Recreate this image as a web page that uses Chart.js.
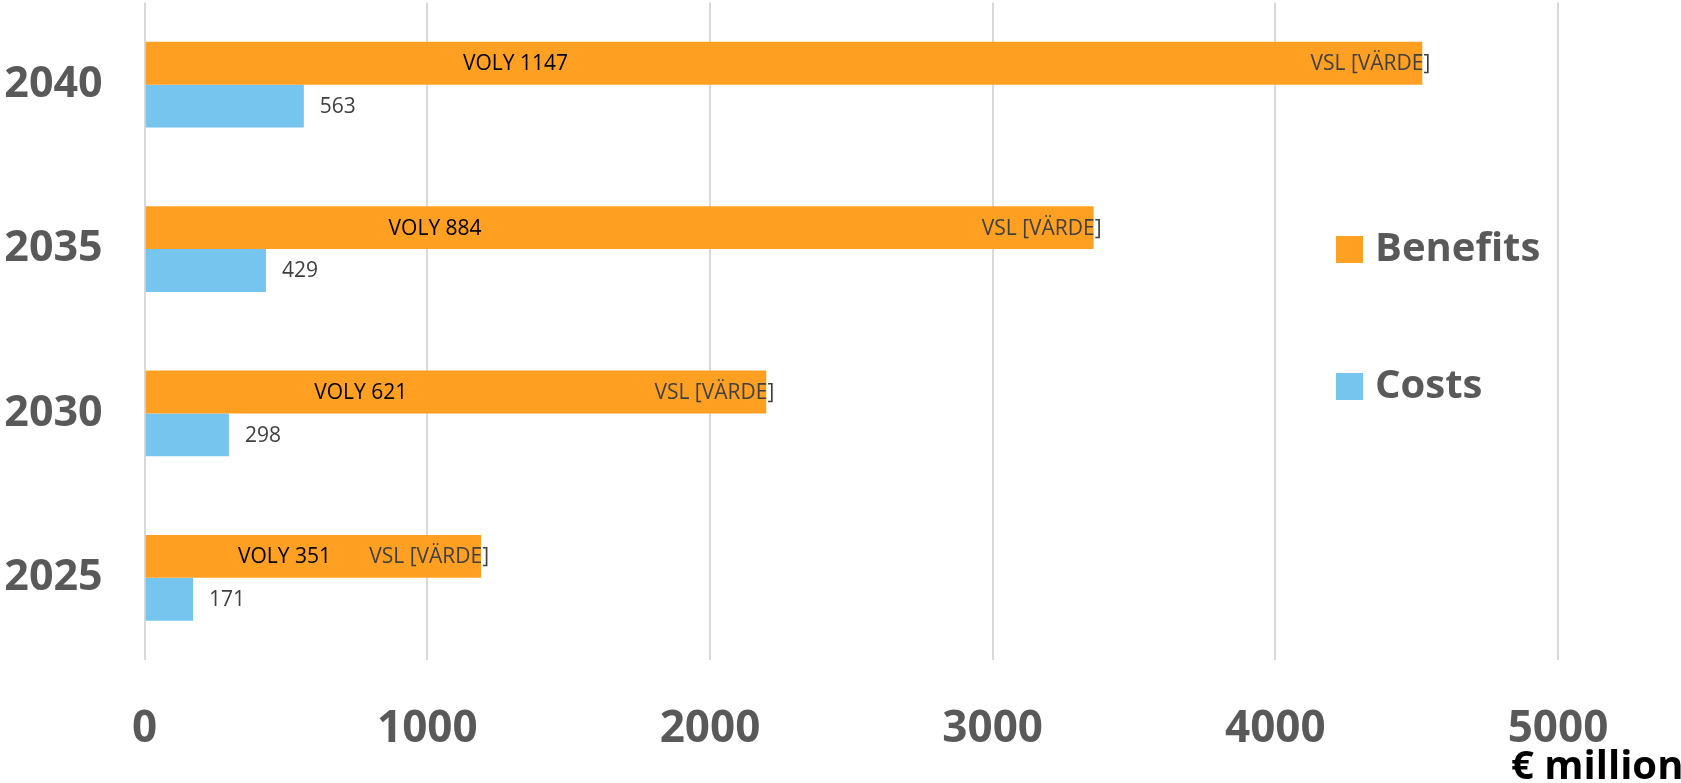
<!DOCTYPE html>
<html>
<head>
<meta charset="utf-8">
<script src="https://cdn.jsdelivr.net/npm/chart.js@4/dist/chart.umd.min.js"></script>
<style>
  html, body { margin: 0; padding: 0; background: #ffffff; }
  #wrap { width: 1681px; height: 783px; position: relative; }
</style>
</head>
<body>
<div id="wrap"><canvas id="c" width="1681" height="783"></canvas></div>
<script>
const categories = ['2040', '2035', '2030', '2025'];
const benefits = [4520, 3357, 2199, 1190];
const costs = [563, 429, 298, 171];
const voly = [1147, 884, 621, 351];
const xTicks = [0, 1000, 2000, 3000, 4000, 5000];
const seriesNames = ['Benefits', 'Costs'];
const vslText = 'VSL [VÄRDE]';
const unitText = '€ million';

const ORANGE = '#FFA023';
const BLUE = '#76C5EF';
const GREY = '#595959';
const FONT = "'Open Sans', 'Liberation Sans', sans-serif";

const labelPlugin = {
  id: 'labels',
  afterDatasetsDraw(chart) {
    const ctx = chart.ctx;
    const xs = chart.scales.x;
    ctx.save();
    ctx.font = '21px ' + FONT;
    ctx.textBaseline = 'middle';
    const m0 = chart.getDatasetMeta(0);
    m0.data.forEach((bar, i) => {
      ctx.fillStyle = '#000000';
      ctx.textAlign = 'left';
      ctx.fillText('VOLY ' + voly[i], xs.getPixelForValue(voly[i]) - 6, bar.y + 1);
      ctx.fillStyle = '#404040';
      ctx.textAlign = 'right';
      ctx.fillText(vslText, bar.x + 8, bar.y + 1);
    });
    const m1 = chart.getDatasetMeta(1);
    m1.data.forEach((bar, i) => {
      ctx.fillStyle = '#404040';
      ctx.textAlign = 'left';
      ctx.fillText(String(costs[i]), bar.x + 16, bar.y + 1);
    });
    ctx.restore();
  },
  afterDraw(chart) {
    const ctx = chart.ctx;
    const xs = chart.scales.x;
    ctx.save();
    const colors = [ORANGE, BLUE];
    const ys = [249, 386];
    ctx.font = 'bold 40px ' + FONT;
    ctx.textBaseline = 'middle';
    ctx.textAlign = 'left';
    seriesNames.forEach((n, i) => {
      ctx.fillStyle = colors[i];
      ctx.fillRect(1336, ys[i] - 13, 27, 27);
      ctx.fillStyle = GREY;
      ctx.fillText(n, 1375, ys[i] + 1);
    });
    ctx.fillStyle = '#000000';
    ctx.fillText(unitText, xs.getPixelForValue(5000) - 47, 768);
    ctx.restore();
  }
};

new Chart(document.getElementById('c'), {
  type: 'bar',
  data: {
    labels: categories,
    datasets: [
      { label: seriesNames[0], data: benefits, backgroundColor: ORANGE, borderWidth: 0 },
      { label: seriesNames[1], data: costs, backgroundColor: BLUE, borderWidth: 0 }
    ]
  },
  options: {
    indexAxis: 'y',
    responsive: false,
    animation: false,
    devicePixelRatio: 1,
    categoryPercentage: 0.522,
    barPercentage: 1.0,
    layout: { padding: { left: 0, right: 123, top: 2.5, bottom: 0 } },
    plugins: { legend: { display: false }, tooltip: { enabled: false } },
    scales: {
      x: {
        min: 0, max: 5000,
        afterBuildTicks(s) { s.ticks = xTicks.map(v => ({ value: v })); },
        afterFit(s) { s.height = 123; s.paddingLeft = 0; s.paddingRight = 0; },
        grid: { color: '#D9D9D9', lineWidth: 2, drawTicks: false },
        border: { display: false },
        ticks: {
          color: GREY, font: { family: FONT, size: 44, weight: 'bold' }, padding: 43, maxRotation: 0,
          callback: (v) => String(v)
        }
      },
      y: {
        afterFit(s) { s.width = 144.7; s.paddingTop = 0; s.paddingBottom = 0; },
        grid: { display: false },
        border: { display: false },
        ticks: { color: GREY, font: { family: FONT, size: 43, weight: 'bold' }, padding: 34 }
      }
    }
  },
  plugins: [labelPlugin]
});
</script>
</body>
</html>
